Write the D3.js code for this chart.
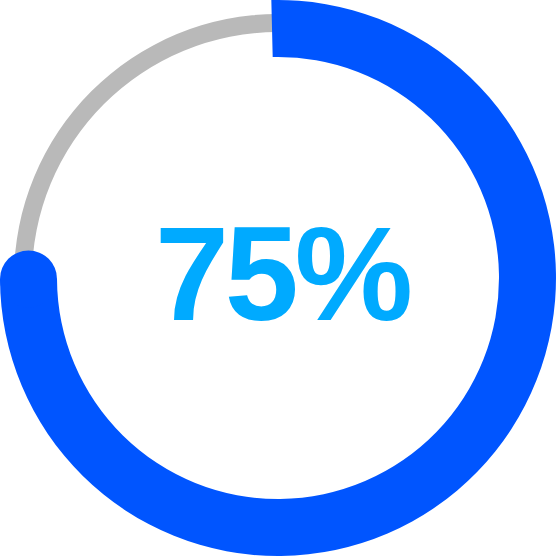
<!DOCTYPE html>
<html>
<head>
<meta charset="utf-8">
<script src="https://cdn.jsdelivr.net/npm/d3@7"></script>
<style>
  html, body { margin: 0; padding: 0; background: #ffffff; }
  svg { display: block; }
</style>
</head>
<body>
<div id="chart"></div>
<script>
// Data
const value = [75];
const maxValue = [100];
const labels = ["75%"];

const W = 556, H = 556;
const cx = 278, cy = 278;

const svg = d3.select("#chart").append("svg")
  .attr("width", W).attr("height", H);

const g = svg.append("g").attr("transform", `translate(${cx},${cy})`);

const startOffset = -0.024;
const angle = d3.scaleLinear().domain([0, maxValue[0]]).range([0, 2 * Math.PI]);

// background track
const track = d3.arc().innerRadius(246).outerRadius(264)
  .startAngle(0).endAngle(2 * Math.PI);
g.append("path").attr("d", track()).attr("fill", "#b9b9b9");

// progress arc
const rIn = 221, rOut = 278;
const endA = angle(value[0]) - 0.004;
const arc = d3.arc().innerRadius(rIn).outerRadius(rOut)
  .startAngle(startOffset).endAngle(endA);
g.append("path").attr("d", arc()).attr("fill", "#0055ff");

// round cap at the end
const rMid = (rIn + rOut) / 2;
g.append("circle")
  .attr("cx", rMid * Math.sin(endA))
  .attr("cy", -rMid * Math.cos(endA))
  .attr("r", (rOut - rIn) / 2)
  .attr("fill", "#0055ff");

// label
g.append("text")
  .attr("x", 4).attr("y", 42)
  .attr("text-anchor", "middle")
  .attr("font-family", "'Liberation Sans', Arial, sans-serif")
  .attr("font-weight", "bold")
  .attr("font-size", 133)
  .attr("letter-spacing", "-4px")
  .attr("fill", "#00aaff")
  .text(labels[0]);
</script>
</body>
</html>
